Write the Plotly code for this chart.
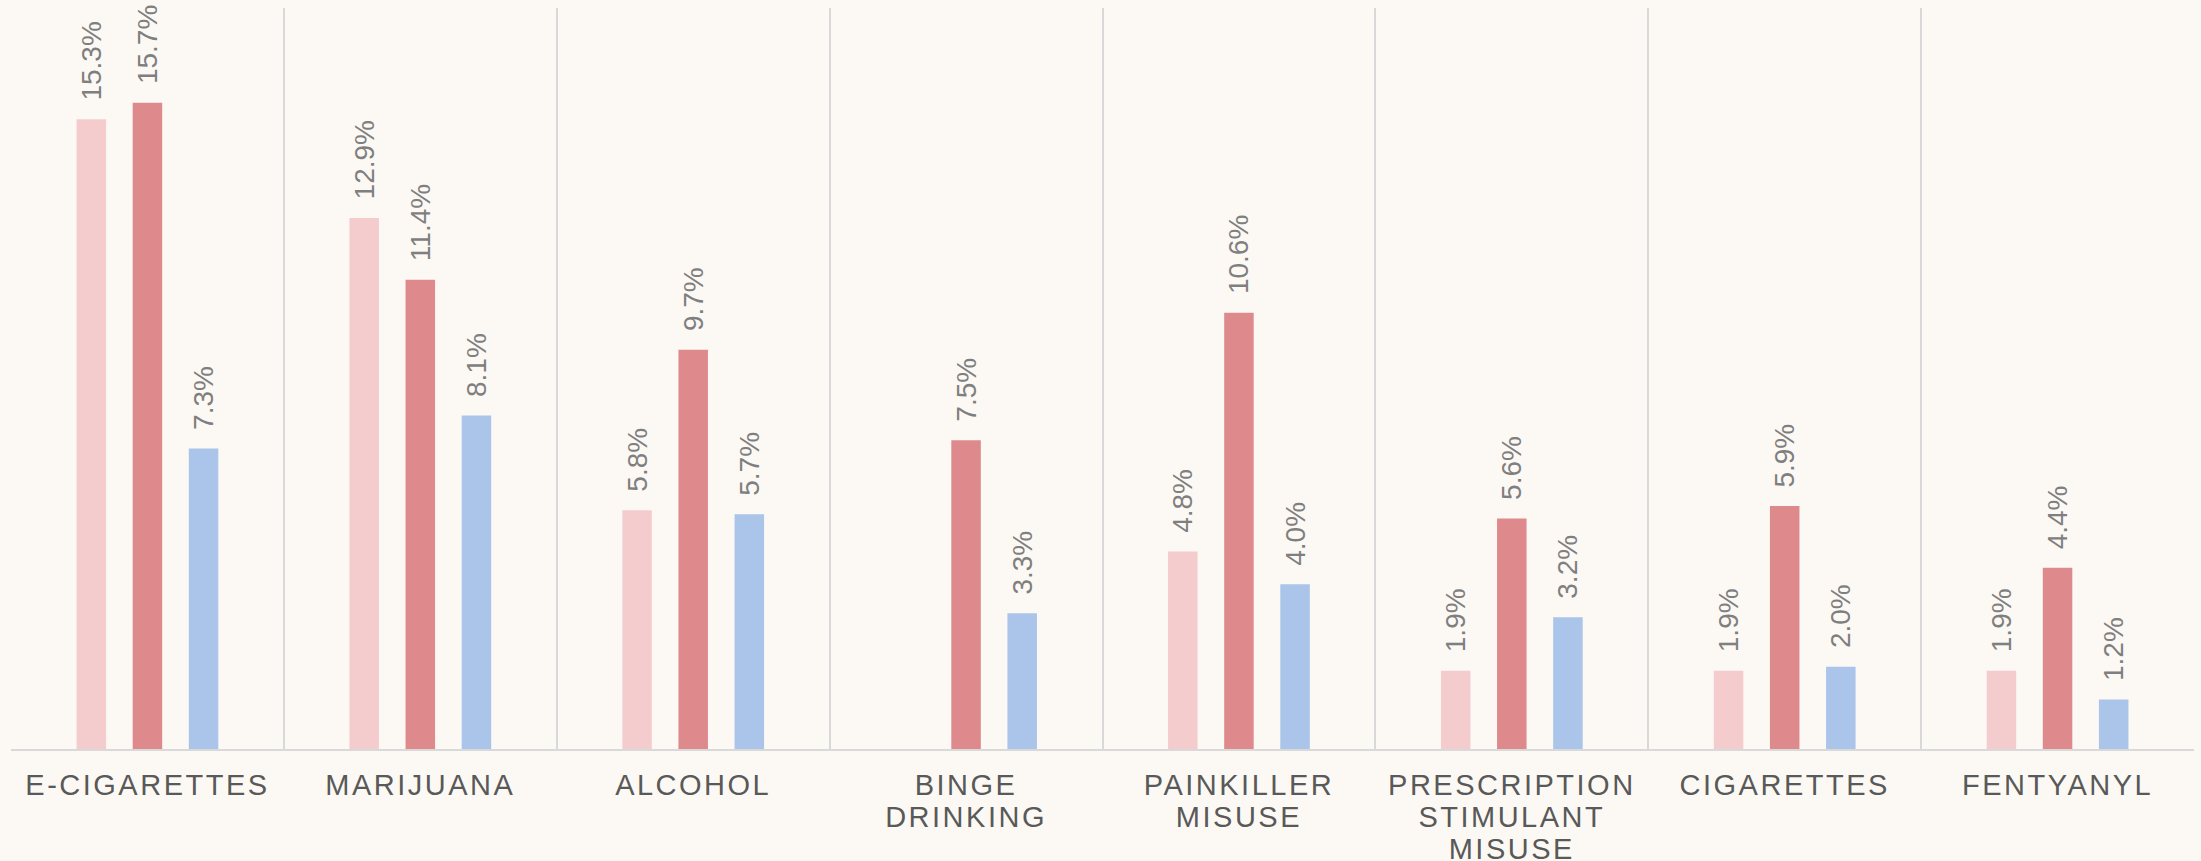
import plotly.graph_objects as go

categories = ["E-CIGARETTES", "MARIJUANA", "ALCOHOL", "BINGE<br>DRINKING",
              "PAINKILLER<br>MISUSE", "PRESCRIPTION<br>STIMULANT<br>MISUSE",
              "CIGARETTES", "FENTYANYL"]
series_names = ["Series 1", "Series 2", "Series 3"]
series1 = [15.3, 12.9, 5.8, None, 4.8, 1.9, 1.9, 1.9]
series2 = [15.7, 11.4, 9.7, 7.5, 10.6, 5.6, 5.9, 4.4]
series3 = [7.3, 8.1, 5.7, 3.3, 4.0, 3.2, 2.0, 1.2]
colors = ["#F5CCCE", "#DE8A8C", "#AAC5E9"]

BG = "#FCF9F4"
NB = "\u00a0"

fig = go.Figure()
for name, vals, col in zip(series_names, [series1, series2, series3], colors):
    fig.add_trace(go.Bar(
        x=categories, y=vals, name=name,
        marker=dict(color=col, line=dict(width=0)),
        text=[("" if v is None else f"{NB}{NB}{v:.1f}%") for v in vals],
        textposition="outside", textangle=-90, constraintext="none",
        cliponaxis=False,
        textfont=dict(family="Liberation Sans, Arial, sans-serif", size=28, color="#7F7F7F"),
        hoverinfo="skip",
    ))

fig.update_layout(
    width=2201, height=861,
    margin=dict(l=11, r=7, t=8, b=112, autoexpand=False),
    paper_bgcolor=BG, plot_bgcolor=BG,
    barmode="group", bargap=0.383, bargroupgap=0.474,
    showlegend=False,
    font=dict(family="Liberation Sans, Arial, sans-serif"),
)
fig.update_xaxes(
    type="category", tickson="boundaries", ticks="", automargin=False,
    showgrid=True, gridcolor="#D9D9D9", gridwidth=1.5,
    showline=True, linecolor="#D9D9D9", linewidth=2,
    tickfont=dict(family="Liberation Sans, Arial, sans-serif", size=29, color="#595959"),
    ticklabelstandoff=9,
)
fig.update_yaxes(range=[0, 18], showgrid=False, zeroline=False, showticklabels=False,
                 showline=False, ticks="", automargin=False)

post = """
document.body.style.margin = '0';
document.body.style.background = '%s';
document.querySelectorAll('.xtick text').forEach(function(t){
  t.style.letterSpacing = '2.5px';
  t.querySelectorAll('tspan.line').forEach(function(s, i){ s.setAttribute('dy', (i * 1.11) + 'em'); });
});
""" % BG
fig.write_html("out.html", post_script=post, config={"displayModeBar": False})
